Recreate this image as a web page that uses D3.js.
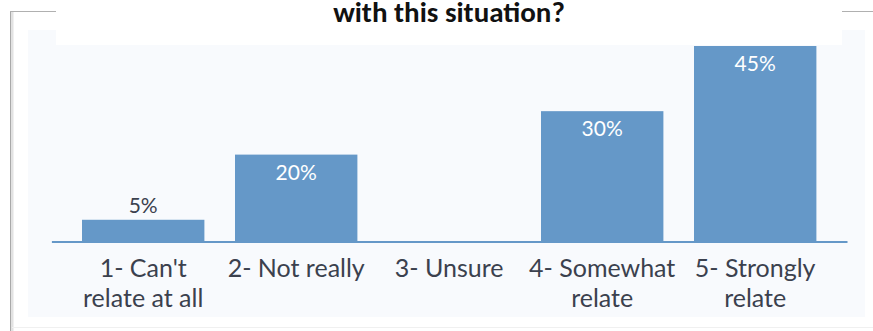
<!DOCTYPE html>
<html>
<head>
<meta charset="utf-8">
<script src="https://cdn.jsdelivr.net/npm/d3@7"></script>
<style>
  html, body { margin: 0; padding: 0; background: #ffffff; }
  svg { display: block; }
</style>
</head>
<body>
<svg id="chart" width="873" height="331"></svg>
<script>
// Survey answers: how strongly respondents relate to the situation
const categories = [
  ["1- Can't", "relate at all"],
  ["2- Not really"],
  ["3- Unsure"],
  ["4- Somewhat", "relate"],
  ["5- Strongly", "relate"]
];
const shares = [5, 20, 0, 30, 45];
const titleText = "with this situation?";

const svg = d3.select("#chart");
const W = 873, H = 331;

const barColor = "#6598c8";
const textColor = "#3b414e";
const font = "Lato, 'Source Sans Pro', 'Open Sans', sans-serif";

const rows = shares.map((v, i) => ({ i, v }));

// light panel behind the plot
svg.append("rect")
  .attr("x", 28).attr("y", 30)
  .attr("width", 837).attr("height", 287)
  .attr("fill", "#f8fafd");

// frame: left edge with a soft shadow, top edge broken by the title
const frame = svg.append("g");
frame.append("line")
  .attr("x1", 12).attr("x2", 12).attr("y1", 11).attr("y2", H)
  .attr("stroke", "#e2e2e2").attr("stroke-width", 3);
frame.append("line")
  .attr("x1", 10.5).attr("x2", 10.5).attr("y1", 11).attr("y2", H)
  .attr("stroke", "#a9a9a9").attr("stroke-width", 1);
frame.append("line")
  .attr("x1", 10).attr("x2", 56).attr("y1", 11.5).attr("y2", 11.5)
  .attr("stroke", "#b0b0b0").attr("stroke-width", 1);
frame.append("line")
  .attr("x1", 842).attr("x2", W).attr("y1", 11.5).attr("y2", 11.5)
  .attr("stroke", "#b0b0b0").attr("stroke-width", 1);
frame.append("line")
  .attr("x1", 12).attr("x2", W).attr("y1", 327.5).attr("y2", 327.5)
  .attr("stroke", "#f0f0f0").attr("stroke-width", 1);

// scales
const baseY = 241.5;
const x = d3.scaleBand()
  .domain(d3.range(categories.length))
  .range([51.4, 847])
  .paddingInner(0.2)
  .paddingOuter(0.2);
const y = d3.scaleLinear()
  .domain([0, 45])
  .range([baseY, 46]);

// bars (zero shares draw nothing)
svg.append("g").selectAll("rect")
  .data(rows.filter(d => d.v > 0))
  .join("rect")
  .attr("x", d => x(d.i))
  .attr("y", d => y(d.v))
  .attr("width", x.bandwidth())
  .attr("height", d => baseY - y(d.v))
  .attr("fill", barColor);

// value labels: inside tall bars, above short ones
svg.append("g")
  .attr("font-family", font)
  .attr("font-size", 21)
  .attr("text-anchor", "middle")
  .selectAll("text")
  .data(rows.filter(d => d.v > 0))
  .join("text")
  .each(function (d) {
    const inside = baseY - y(d.v) > 40;
    d3.select(this)
      .attr("x", x(d.i) + x.bandwidth() / 2)
      .attr("y", inside ? y(d.v) + 25 : y(d.v) - 7)
      .attr("fill", inside ? "#ffffff" : textColor)
      .text(d.v + "%");
  });

// baseline axis
const axis = d3.axisBottom(x).tickSize(0).tickFormat("");
const axisG = svg.append("g")
  .attr("transform", `translate(0,${baseY})`)
  .call(axis);
axisG.select(".domain")
  .attr("stroke", barColor)
  .attr("stroke-width", 2.2);

// category labels, up to two lines each
const cats = svg.append("g")
  .attr("font-family", font)
  .attr("font-size", 25)
  .attr("fill", textColor)
  .attr("text-anchor", "middle");
categories.forEach((lines, i) => {
  const cx = x(i) + x.bandwidth() / 2;
  const t = cats.append("text").attr("x", cx).attr("y", 277);
  lines.forEach((ln, k) => {
    t.append("tspan")
      .attr("x", cx)
      .attr("dy", k === 0 ? 0 : 30)
      .text(ln);
  });
});

// title on a white band that interrupts the frame
svg.append("rect")
  .attr("x", 56).attr("y", 0)
  .attr("width", 786).attr("height", 45)
  .attr("fill", "#ffffff");
svg.append("text")
  .attr("x", 449).attr("y", 22)
  .attr("text-anchor", "middle")
  .attr("font-family", "Carlito, 'Open Sans', 'Liberation Sans', sans-serif")
  .attr("font-weight", "bold")
  .attr("font-size", 29)
  .attr("fill", "#111111")
  .text(titleText);
</script>
</body>
</html>
